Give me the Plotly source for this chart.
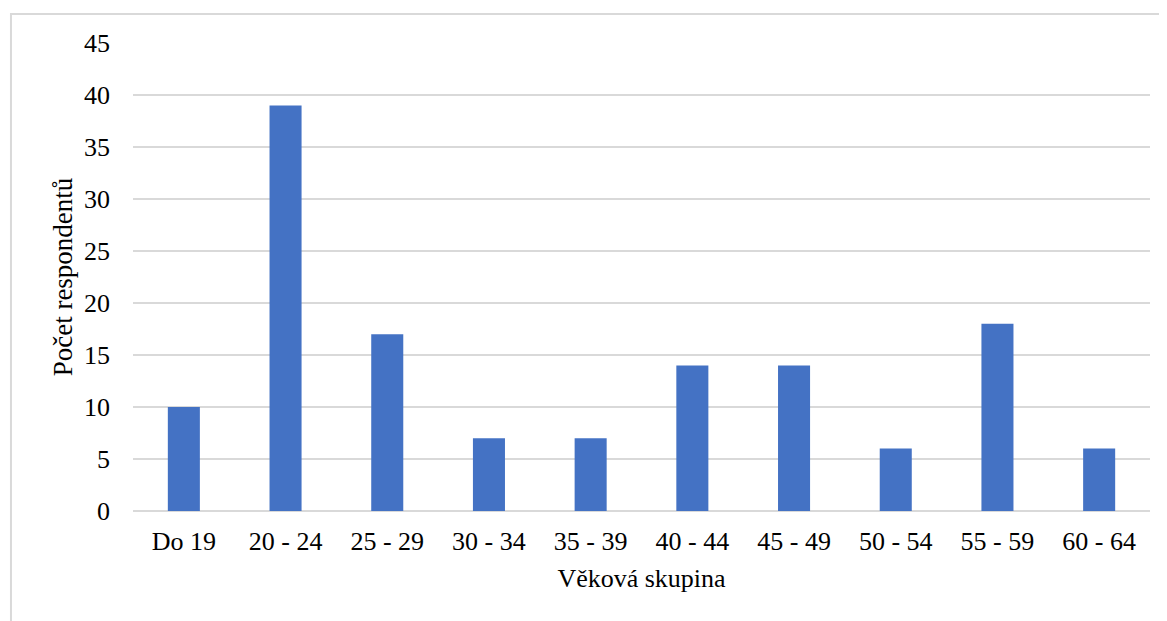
import plotly.graph_objects as go

categories = ["Do 19", "20 - 24", "25 - 29", "30 - 34", "35 - 39", "40 - 44", "45 - 49", "50 - 54", "55 - 59", "60 - 64"]
counts = [10, 39, 17, 7, 7, 14, 14, 6, 18, 6]
y_ticks = [0, 5, 10, 15, 20, 25, 30, 35, 40, 45]

font_family = "'Liberation Serif', 'Times New Roman', 'DejaVu Serif', serif"

fig = go.Figure(go.Bar(x=categories, y=counts, marker=dict(color="#4472C4", line=dict(width=0))))

fig.update_layout(
    width=1159, height=613,
    margin=dict(l=125, r=17, t=35, b=110),
    paper_bgcolor="white", plot_bgcolor="white",
    bargap=0.685,
    font=dict(family=font_family, size=26, color="#000000"),
    showlegend=False,
    shapes=[dict(type="rect", xref="paper", yref="paper", x0=-0.12, x1=1.1, y0=-0.3, y1=1.062,
                 line=dict(color="#d9d9d9", width=2), fillcolor="rgba(0,0,0,0)", layer="below")],
)
fig.update_xaxes(
    title=dict(text="Věková skupina", font=dict(family=font_family, size=26), standoff=13),
    showgrid=False, showline=False, zeroline=False, ticks="",
    ticklabelstandoff=12, tickfont=dict(family=font_family, size=26),
)
fig.update_yaxes(
    title=dict(text="Počet respondentů", font=dict(family=font_family, size=27), standoff=3),
    range=[0, 45], tickvals=y_ticks, showgrid=True, gridcolor="#d9d9d9", gridwidth=1.5,
    zeroline=True, zerolinecolor="#d9d9d9", zerolinewidth=1.5,
    showline=False, ticks="", ticklabelstandoff=22, tickfont=dict(family=font_family, size=26),
)

fig.write_html("out.html")
